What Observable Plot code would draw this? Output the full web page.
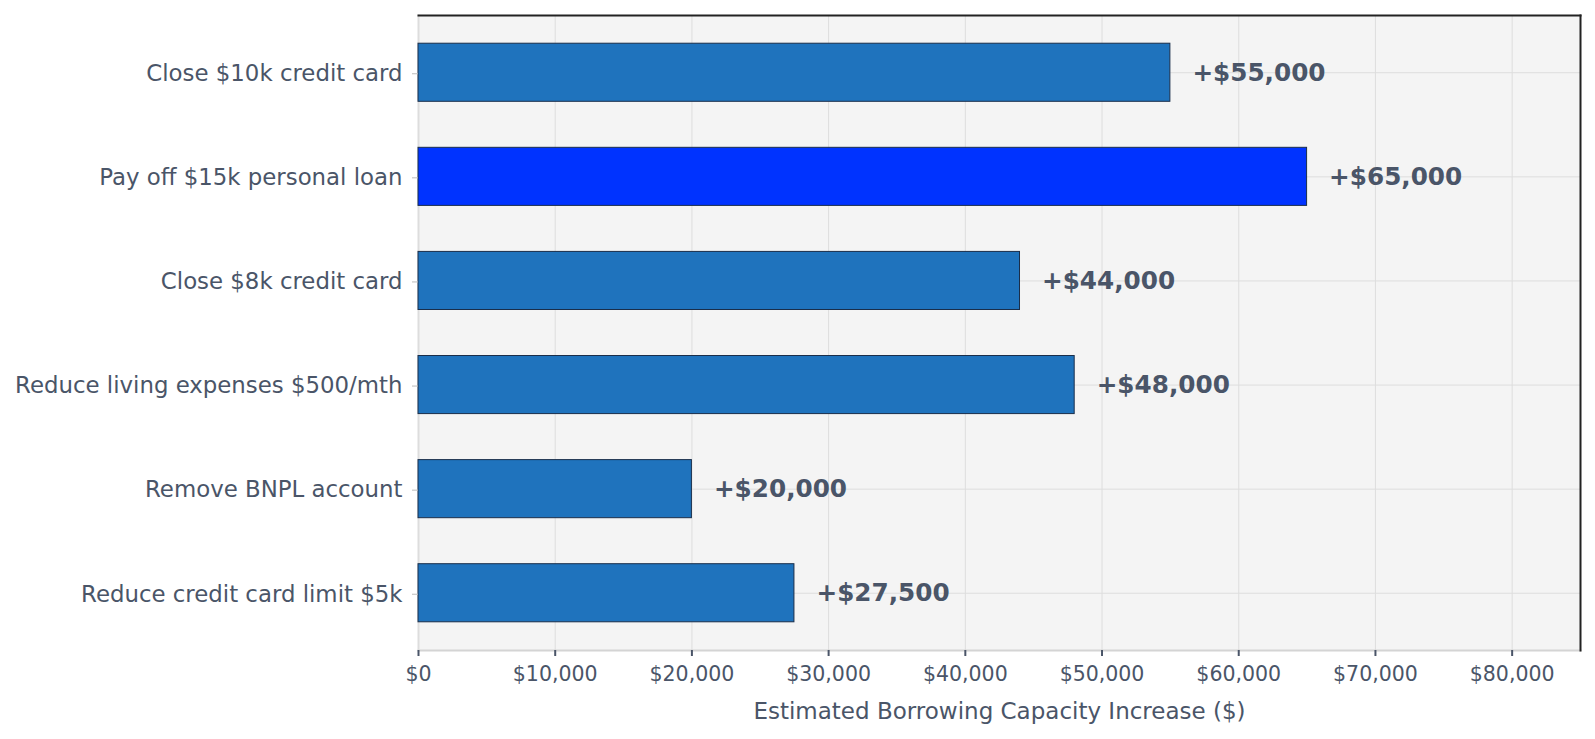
<!DOCTYPE html>
<html><head><meta charset="utf-8">
<script src="https://cdn.jsdelivr.net/npm/d3@7"></script>
<script src="https://cdn.jsdelivr.net/npm/@observablehq/plot@0.6"></script>
<style>
body{margin:0;background:#fff;}
svg{font-family:"DejaVu Sans",sans-serif;}
</style>
</head><body><div id="chart"></div>
<script>
const actions = [
  "Close $10k credit card",
  "Pay off $15k personal loan",
  "Close $8k credit card",
  "Reduce living expenses $500/mth",
  "Remove BNPL account",
  "Reduce credit card limit $5k"
];
const increases = [55000, 65000, 44000, 48000, 20000, 27500];
const highlighted = "Pay off $15k personal loan";
const xTicks = [0, 10000, 20000, 30000, 40000, 50000, 60000, 70000, 80000];
const xLabel = "Estimated Borrowing Capacity Increase ($)";

const data = actions.map((a, i) => ({action: a, value: increases[i]}));
const money = d3.format(",");

const chart = Plot.plot({
  width: 1595,
  height: 739,
  marginLeft: 418,
  marginRight: 15,
  marginTop: 15,
  marginBottom: 89,
  style: {fontFamily: "DejaVu Sans, sans-serif", background: "#fff", color: "#4a5568"},
  x: {domain: [0, 85000]},
  y: {domain: actions, paddingInner: 0.442, paddingOuter: 0.271, round: false},
  color: {type: "identity"},
  marks: [
    Plot.frame({fill: "#f4f4f4", stroke: null}),
    Plot.gridX(xTicks, {stroke: "#dddddd", strokeOpacity: 1, strokeWidth: 1}),
    Plot.gridY({stroke: "#dddddd", strokeOpacity: 1, strokeWidth: 1}),
    Plot.frame({anchor: "bottom", stroke: "#d4d4d4", strokeWidth: 2}),
    Plot.frame({anchor: "left", stroke: "#dddddd", strokeWidth: 2}),
    Plot.barX(data, {
      x: "value", y: "action",
      fill: d => d.action === highlighted ? "#0033ff" : "#1f73bd",
      stroke: "#1a2e4a", strokeWidth: 1
    }),
    Plot.text(data, {
      x: "value", y: "action",
      text: d => "+$" + money(d.value),
      dx: 22, textAnchor: "start", fontWeight: "bold", fontSize: 24.7, fill: "#4a5568"
    }),
    Plot.axisX({
      ticks: xTicks, tickFormat: d => "$" + money(d),
      fontSize: 20.5, tickSize: 6, tickPadding: 10, stroke: "#4a5568", strokeWidth: 2, fill: "#4a5568",
      label: null
    }),
    Plot.text([xLabel], {
      frameAnchor: "bottom", dy: 61, fontSize: 23, fill: "#4a5568", lineAnchor: "middle"
    }),
    Plot.axisY({
      fontSize: 22.85, tickSize: 6, tickPadding: 10, stroke: "#bbbbbb", fill: "#4a5568", label: null, dy: 1
    }),
    Plot.frame({anchor: "top", stroke: "#222", strokeWidth: 2}),
    Plot.frame({anchor: "right", stroke: "#222", strokeWidth: 2})
  ]
});
document.getElementById("chart").append(chart);
</script>
</body></html>
